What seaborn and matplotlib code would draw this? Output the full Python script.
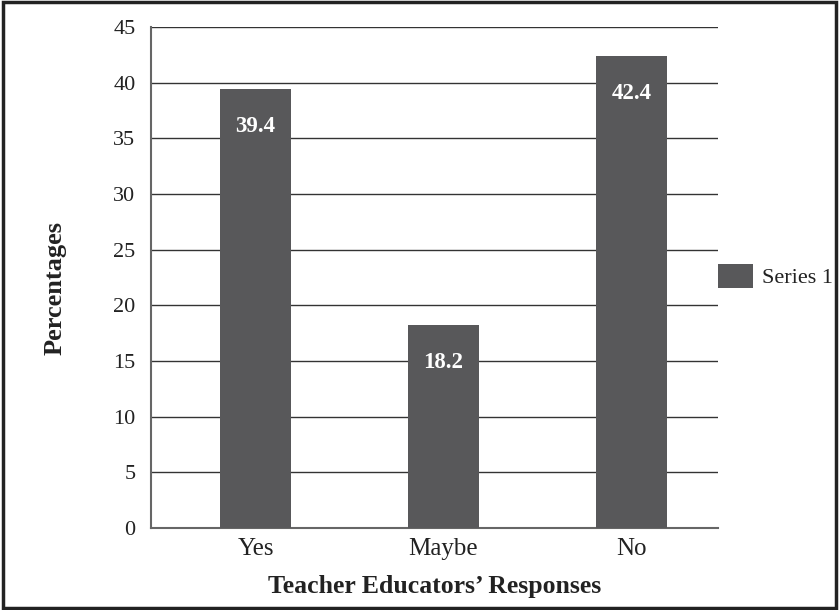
import pandas as pd
import seaborn as sns
import matplotlib.pyplot as plt
from matplotlib.patches import Rectangle

responses = ['Yes', 'Maybe', 'No']
percentages = [39.4, 18.2, 42.4]
series_name = 'Series 1'

data = pd.DataFrame({'response': responses, 'pct': percentages,
                     'series': [series_name] * len(responses)})

sns.set_style('white')
plt.rcParams['font.family'] = ['Liberation Serif', 'DejaVu Serif']

fig = plt.figure(figsize=(8.39, 6.10), dpi=100)
ax = fig.add_axes([0.1796, 0.1344, 0.676, 0.8213])

bar_color = '#58585a'
sns.barplot(data=data, x='response', y='pct', hue='series', palette=[bar_color],
            width=0.378, saturation=1, linewidth=0, ax=ax, zorder=3)

ax.set_xlim(-0.558, 2.46)
ax.set_ylim(0, 45)
ax.set_yticks(range(0, 50, 5))
ax.yaxis.grid(True, color='#333333', linewidth=1)
ax.set_axisbelow(True)
for side in ['top', 'right']:
    ax.spines[side].set_visible(False)
for side in ['left', 'bottom']:
    ax.spines[side].set_color('#666666')
    ax.spines[side].set_linewidth(1.5)
ax.tick_params(axis='y', direction='out', length=5, width=1.5, color='#666666',
               labelsize=16, pad=6, labelcolor='#222222')
ax.tick_params(axis='x', length=0, labelsize=18, pad=7, labelcolor='#222222')

# value labels in white inside the bars
for i, v in enumerate(percentages):
    ax.annotate(f'{v}', xy=(i, v), xytext=(0, -27), textcoords='offset points',
                ha='center', va='center', color='white', fontsize=16.5, fontweight='bold')

ax.set_xlabel("Teacher Educators\u2019 Responses", fontsize=18.5, fontweight='bold',
              labelpad=11, color='#222222')
ax.set_ylabel('Percentages', fontsize=19, fontweight='bold', color='#222222')
ax.yaxis.set_label_coords(-0.148, 0.48)

leg = ax.legend(loc='center left', bbox_to_anchor=(1.0, 0.503), frameon=False,
                fontsize=16, handlelength=1.57, handleheight=1.3, handletextpad=0.4,
                borderaxespad=0, borderpad=0)
for t in leg.get_texts():
    t.set_color('#222222')

# outer frame
fig.patches.append(Rectangle((0.003, 0.003), 0.994, 0.994, transform=fig.transFigure,
                             fill=False, edgecolor='#222222', linewidth=2.5))

plt.savefig('out.png', dpi=100)
